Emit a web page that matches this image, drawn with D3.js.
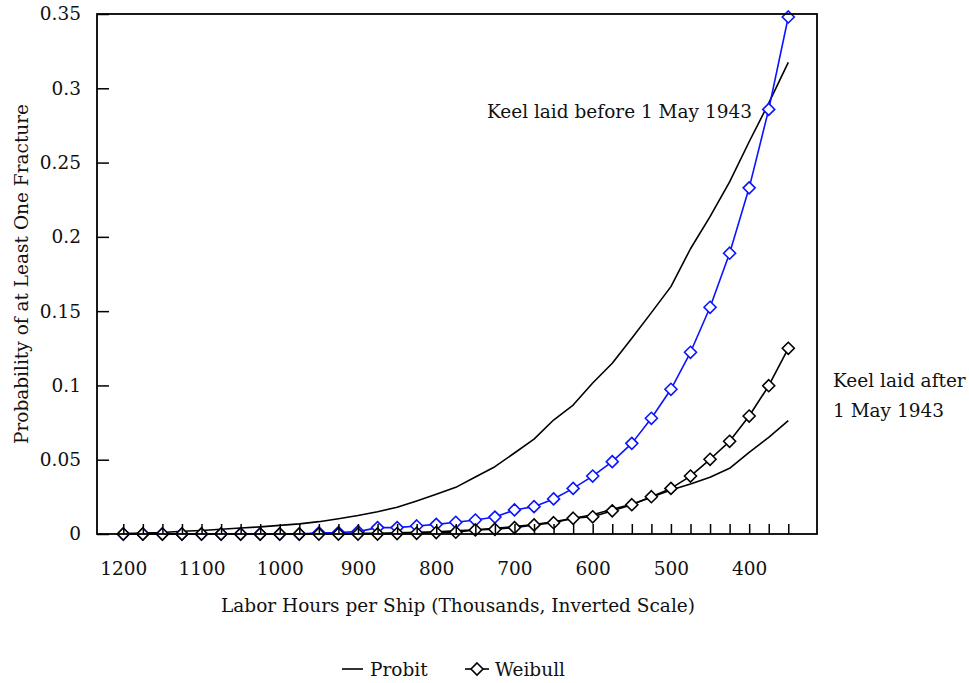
<!DOCTYPE html>
<html>
<head>
<meta charset="utf-8">
<script src="https://cdn.jsdelivr.net/npm/d3@7"></script>
<style>
  body { margin: 0; background: #fff; }
  svg text { font-family: "DejaVu Serif", "Liberation Serif", serif; fill: #111; }
</style>
</head>
<body>
<svg id="chart" width="969" height="683"></svg>
<script>
// ---- Data (labor hours per ship, thousands) ----
const laborHours = [1200,1175,1150,1125,1100,1075,1050,1025,1000,975,950,925,900,875,850,825,800,775,750,725,700,675,650,625,600,575,550,525,500,475,450,425,400,375,350];

// Keel laid before 1 May 1943
const probitBefore = [0.0003,0.0006,0.0010,0.0018,0.0024,0.0032,0.0040,0.0048,0.0058,0.0068,0.0083,0.0103,0.0125,0.0150,0.0180,0.0222,0.0267,0.0314,0.0384,0.0453,0.0545,0.0639,0.0767,0.0868,0.1016,0.1149,0.1317,0.1490,0.1665,0.1920,0.2136,0.2370,0.2640,0.2900,0.3175];
const weibullBefore = [0,0,0,0,0,0,0,0,0,0,0.0008,0.0010,0.0016,0.0043,0.0043,0.0054,0.0065,0.0079,0.0094,0.0114,0.0162,0.0184,0.0236,0.0307,0.0390,0.0487,0.0610,0.0779,0.0974,0.1223,0.1526,0.1890,0.2330,0.2858,0.3480];

// Keel laid after 1 May 1943
const probitAfter = [0.0001,0.0001,0.0001,0.0001,0.0001,0.0001,0.0001,0.0001,0.0001,0.0001,0.0002,0.0003,0.0004,0.0005,0.0008,0.0011,0.0015,0.0021,0.0029,0.0038,0.0050,0.0064,0.0082,0.0105,0.0130,0.0166,0.0200,0.0247,0.0296,0.0337,0.0382,0.0442,0.0550,0.0651,0.0763];
const weibullAfter = [0,0,0,0,0,0,0,0,0,0,0,0,0,0,0.0003,0.0005,0.0010,0.0012,0.0027,0.0032,0.0043,0.0061,0.0076,0.0106,0.0116,0.0156,0.0197,0.0251,0.0307,0.0390,0.0503,0.0624,0.0794,0.0998,0.1250];

const xTickLabels = [1200,1100,1000,900,800,700,600,500,400];
const yTickValues = [0,0.05,0.1,0.15,0.2,0.25,0.3,0.35];

const xTitle = "Labor Hours per Ship (Thousands, Inverted Scale)";
const yTitle = "Probability of at Least One Fracture";
const noteBefore = "Keel laid before 1 May 1943";
const noteAfter = ["Keel laid after", "1 May 1943"];
const legendNames = ["Probit", "Weibull"];

// ---- Layout ----
const svg = d3.select("#chart");
const L = 97, R = 817, T = 14, B = 534;
const FS = 18.5;
const FONT = "DejaVu Serif";

const x = d3.scaleLinear().domain([1233.6, 313.3]).range([L, R]);
const y = d3.scaleLinear().domain([0, 0.35]).range([B, T]);

const BLUE = "#0a14ff";
const BLACK = "#000";

const line = d3.line().x((d, i) => x(laborHours[i])).y(d => y(d));

function drawSeries(values, color, markers) {
  svg.append("path")
    .datum(values)
    .attr("fill", "none")
    .attr("stroke", color)
    .attr("stroke-width", 1.6)
    .attr("stroke-linejoin", "round")
    .attr("d", line);
  if (markers) {
    svg.append("g").selectAll("path")
      .data(values)
      .join("path")
      .attr("transform", (d, i) => `translate(${x(laborHours[i])},${y(d)})`)
      .attr("d", "M0,-6L6,0L0,6L-6,0Z")
      .attr("fill", "#fff")
      .attr("stroke", color)
      .attr("stroke-width", 1.6);
  }
}

drawSeries(probitBefore, BLACK, false);
drawSeries(probitAfter, BLACK, false);
drawSeries(weibullBefore, BLUE, true);
drawSeries(weibullAfter, BLACK, true);

// ---- Axes ----
const gxTicks = svg.append("g")
  .attr("transform", `translate(0,${B})`)
  .call(d3.axisBottom(x).tickValues(laborHours).tickSize(-10).tickSizeOuter(0).tickFormat(""));
gxTicks.select(".domain").remove();
gxTicks.selectAll("line").attr("stroke", BLACK).attr("stroke-width", 1.5);

const gxLab = svg.append("g")
  .attr("transform", `translate(0,${B})`)
  .call(d3.axisBottom(x).tickValues(xTickLabels).tickSize(0).tickPadding(28).tickFormat(d3.format("d")));
gxLab.select(".domain").remove();
gxLab.selectAll("text").attr("font-size", FS).attr("font-family", FONT);

const gy = svg.append("g")
  .attr("transform", `translate(${L},0)`)
  .call(d3.axisLeft(y).tickValues(yTickValues).tickSize(-12).tickSizeOuter(0).tickPadding(16)
    .tickFormat(d => String(+d.toFixed(2))));
gy.select(".domain").remove();
gy.selectAll("line").attr("stroke", BLACK).attr("stroke-width", 1.5);
gy.selectAll("text").attr("font-size", FS).attr("font-family", FONT);

svg.append("rect")
  .attr("x", L).attr("y", T).attr("width", R - L).attr("height", B - T)
  .attr("fill", "none").attr("stroke", BLACK).attr("stroke-width", 1.8);

svg.append("text")
  .attr("x", 458).attr("y", 612)
  .attr("text-anchor", "middle")
  .attr("font-size", FS)
  .text(xTitle);

svg.append("text")
  .attr("transform", "translate(28,274) rotate(-90)")
  .attr("text-anchor", "middle")
  .attr("font-size", FS)
  .text(yTitle);

svg.append("text")
  .attr("x", 752).attr("y", 118)
  .attr("text-anchor", "end")
  .attr("font-size", FS)
  .text(noteBefore);

svg.append("text")
  .attr("x", 833).attr("y", 387)
  .attr("font-size", FS)
  .text(noteAfter[0]);
svg.append("text")
  .attr("x", 833).attr("y", 417)
  .attr("font-size", FS)
  .text(noteAfter[1]);

const lg = svg.append("g");
lg.append("line").attr("x1", 342).attr("x2", 363).attr("y1", 669).attr("y2", 669)
  .attr("stroke", BLACK).attr("stroke-width", 1.6);
lg.append("text").attr("x", 370).attr("y", 676).attr("font-size", FS).text(legendNames[0]);
lg.append("line").attr("x1", 465).attr("x2", 489).attr("y1", 669).attr("y2", 669)
  .attr("stroke", BLACK).attr("stroke-width", 1.6);
lg.append("path").attr("transform", "translate(477,669)")
  .attr("d", "M0,-6L6,0L0,6L-6,0Z")
  .attr("fill", "#fff").attr("stroke", BLACK).attr("stroke-width", 1.6);
lg.append("text").attr("x", 495).attr("y", 676).attr("font-size", FS).text(legendNames[1]);
</script>
</body>
</html>
